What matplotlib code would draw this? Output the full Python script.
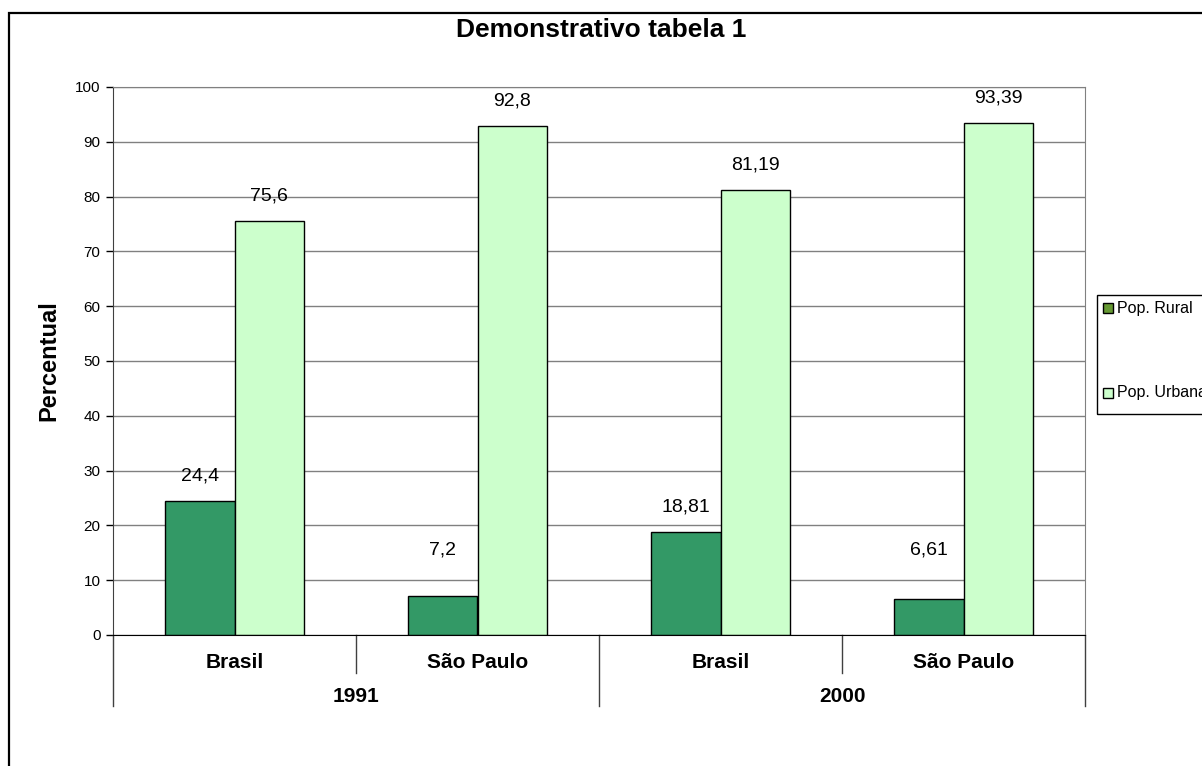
import matplotlib
matplotlib.use("Agg")
import matplotlib.pyplot as plt
from matplotlib.lines import Line2D
from matplotlib.patches import Rectangle
import numpy as np

plt.rcParams['font.family'] = ['Liberation Sans', 'DejaVu Sans']

# data
anos = ['1991', '2000']
locais = ['Brasil', 'São Paulo', 'Brasil', 'São Paulo']
rural = [24.4, 7.2, 18.81, 6.61]
urbana = [75.6, 92.8, 81.19, 93.39]
rural_txt = ['24,4', '7,2', '18,81', '6,61']
urbana_txt = ['75,6', '92,8', '81,19', '93,39']

W, H = 1202, 766
fig = plt.figure(figsize=(W / 100, H / 100), dpi=100)

# outer chart frame (right and bottom edges fall outside the picture)
fig.add_artist(Rectangle((9 / W, -0.1), 1.2, (H - 13) / H + 0.1, transform=fig.transFigure,
                         fill=False, edgecolor='black', linewidth=1.6))

ax = fig.add_axes([113 / W, (H - 635) / H, 972 / W, 548 / H])

x = np.arange(len(locais))
bw = 0.286
ax.bar(x - bw / 2, rural, bw, color='#339966', edgecolor='black', linewidth=1, zorder=3)
ax.bar(x + bw / 2, urbana, bw, color='#ccffcc', edgecolor='black', linewidth=1, zorder=3)

# value labels
for xi, v, t in zip(x, rural, rural_txt):
    ax.annotate(t, (xi - bw / 2, max(v, 11)), xytext=(0, 18), textcoords='offset points',
                ha='center', va='center', fontsize=14)
for xi, v, t in zip(x, urbana, urbana_txt):
    ax.annotate(t, (xi + bw / 2, v), xytext=(0, 18), textcoords='offset points',
                ha='center', va='center', fontsize=14)

ax.set_xlim(-0.5, len(locais) - 0.5)
ax.set_ylim(0, 100)
ax.set_yticks(range(0, 101, 10))
ax.tick_params(axis='y', direction='out', length=5, width=1, labelsize=11, pad=4)
ax.set_xticks([])
ax.grid(axis='y', color='#808080', linewidth=1, zorder=0)
for s in ['top', 'right']:
    ax.spines[s].set_color('#808080')
ax.spines['left'].set_color('#404040')
ax.spines['bottom'].set_color('black')
ax.spines['bottom'].set_zorder(4)

ax.set_ylabel('Percentual', fontsize=17, fontweight='bold')
ax.yaxis.set_label_coords(-0.0545, 0.5)
fig.text(0.5, (H - 30) / H, 'Demonstrativo tabela 1', ha='center', va='center',
         fontsize=19, fontweight='bold')

# two-level category axis
tr = ax.get_xaxis_transform()
for i, nome in enumerate(locais):
    ax.text(i, -28 / 548, nome, transform=tr, ha='center', va='center',
            fontsize=15, fontweight='bold')
for j, ano in enumerate(anos):
    ax.text(2 * j + 0.5, -62 / 548, ano, transform=tr, ha='center', va='center',
            fontsize=15, fontweight='bold')
for b in np.arange(-0.5, len(locais), 1.0):
    low = -71 / 548 if (b + 0.5) % 2 == 0 else -38 / 548
    ax.add_line(Line2D([b, b], [0, low], transform=tr, color='#404040',
                       linewidth=1, clip_on=False))

# legend box, cut off at the right edge like the reference
fig.add_artist(Rectangle((1097 / W, (H - 414) / H), 0.2, 119 / H, transform=fig.transFigure,
                         fill=False, edgecolor='black', linewidth=1))
leg_items = [('Pop. Rural', '#669933', 308), ('Pop. Urbana', '#ccffcc', 393)]
for lab, col, py in leg_items:
    fig.add_artist(Rectangle((1103 / W, (H - py - 5) / H), 10 / W, 10 / H,
                             transform=fig.transFigure, facecolor=col,
                             edgecolor='black', linewidth=1))
    fig.text(1117 / W, (H - py) / H, lab, fontsize=11.5, va='center', ha='left')

fig.savefig('out.png', dpi=100)
